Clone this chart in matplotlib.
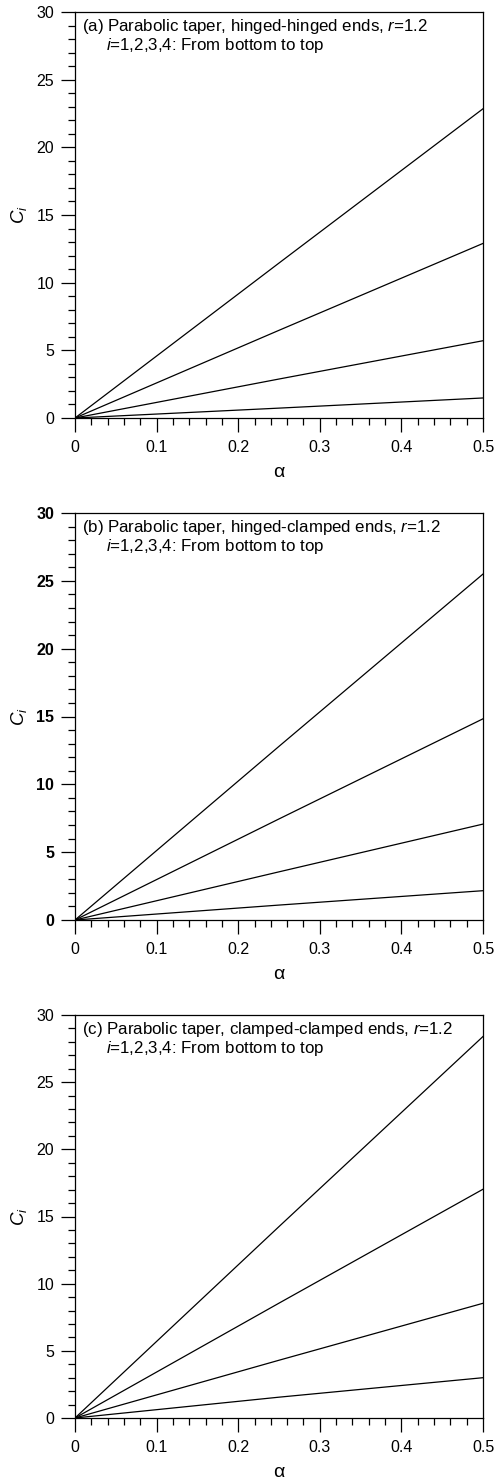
import numpy as np
import matplotlib.pyplot as plt
from matplotlib.ticker import MultipleLocator

plt.rcParams['font.family'] = ['Liberation Sans', 'DejaVu Sans']
plt.rcParams['mathtext.fontset'] = 'custom'
plt.rcParams['mathtext.rm'] = 'Liberation Sans'
plt.rcParams['mathtext.it'] = 'Liberation Sans:italic'

alpha = [0.0, 0.25, 0.5]

# (a) hinged-hinged
ca = [[0.0, 0.73, 1.48],
      [0.0, 2.88, 5.71],
      [0.0, 6.48, 12.9],
      [0.0, 11.45, 22.85]]
# (b) hinged-clamped
cb = [[0.0, 1.1, 2.16],
      [0.0, 3.55, 7.07],
      [0.0, 7.45, 14.83],
      [0.0, 12.8, 25.5]]
# (c) clamped-clamped
cc = [[0.0, 1.55, 3.0],
      [0.0, 4.3, 8.54],
      [0.0, 8.55, 17.03],
      [0.0, 14.25, 28.4]]

titles = ['(a) Parabolic taper, hinged-hinged ends, $\\it{r}$=1.2',
          '(b) Parabolic taper, hinged-clamped ends, $\\it{r}$=1.2',
          '(c) Parabolic taper, clamped-clamped ends, $\\it{r}$=1.2']
subtitle = '$\\it{i}$=1,2,3,4: From bottom to top'

W, H = 504, 1483
boxes = [(12, 418), (513, 920), (1015, 1418)]

fig = plt.figure(figsize=(W / 100, H / 100), dpi=100)

for k, (data, title, (top, bot)) in enumerate(zip([ca, cb, cc], titles, boxes)):
    ax = fig.add_axes([75 / W, 1 - bot / H, 408 / W, (bot - top) / H])
    for ys in data:
        ax.plot(alpha, ys, color='black', lw=0.9)
    ax.set_xlim(0, 0.5)
    ax.set_ylim(0, 30)
    ax.xaxis.set_major_locator(MultipleLocator(0.1))
    ax.xaxis.set_minor_locator(MultipleLocator(0.02))
    ax.yaxis.set_major_locator(MultipleLocator(5))
    ax.yaxis.set_minor_locator(MultipleLocator(1))
    ax.tick_params(which='major', direction='out', length=10, width=0.9,
                   labelsize=11.5, top=False, right=False)
    ax.tick_params(which='minor', direction='out', length=4.8, width=0.9,
                   top=False, right=False)
    ax.tick_params(axis='x', which='major', pad=6)
    ax.tick_params(axis='y', which='major', pad=5)
    ax.xaxis.set_major_formatter(plt.FuncFormatter(lambda v, p: '0' if v == 0 else '%.1f' % v))
    ax.yaxis.set_major_formatter(plt.FuncFormatter(lambda v, p: '%d' % v))
    if k == 1:
        for lab in ax.get_yticklabels():
            lab.set_fontweight('bold')
    for s in ax.spines.values():
        s.set_linewidth(0.9)
    ax.set_xlabel('α', fontsize=14, labelpad=6)
    ax.set_ylabel('$C_i$', fontsize=13.5, labelpad=5)
    ax.text(0.018, 0.988, title, transform=ax.transAxes, fontsize=12.2,
            va='top', ha='left')
    ax.text(0.075, 0.94, subtitle, transform=ax.transAxes, fontsize=12.2,
            va='top', ha='left')

fig.savefig('out.png', dpi=100)
